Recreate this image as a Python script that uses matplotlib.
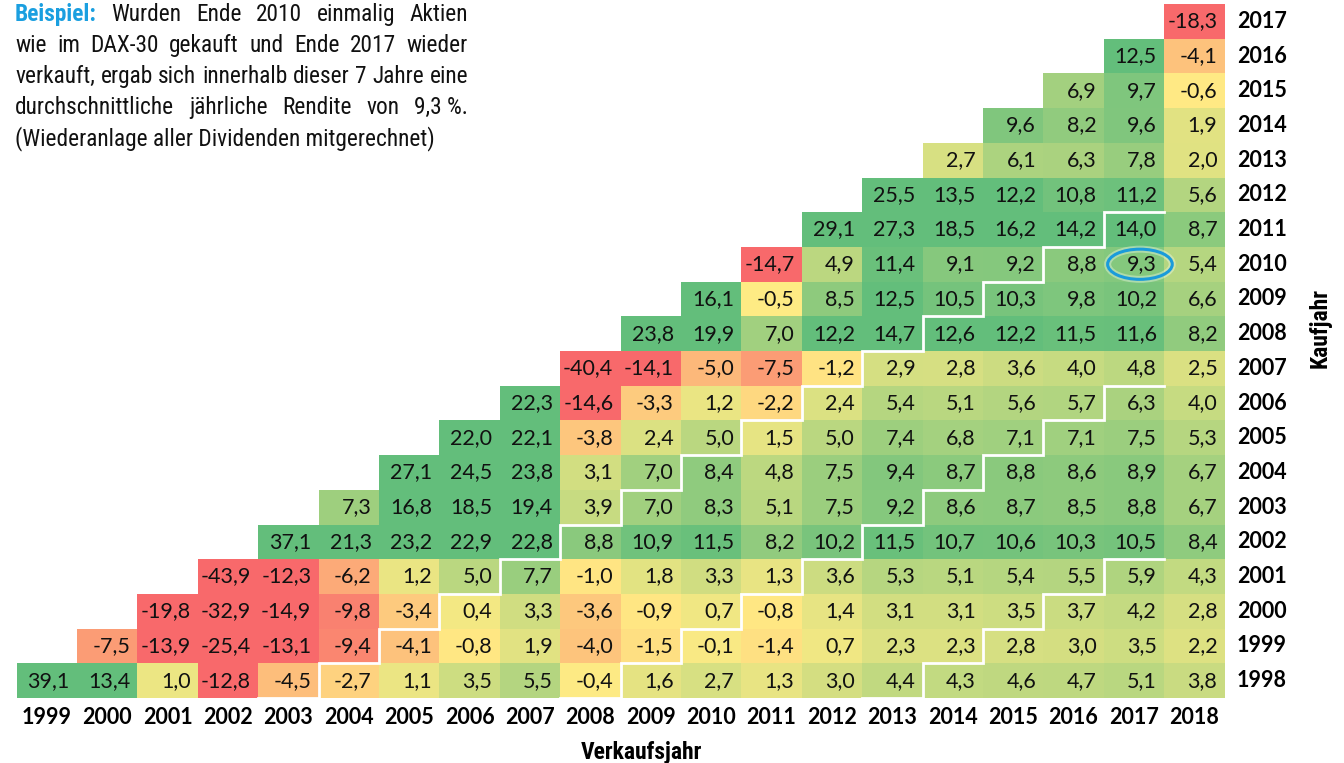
import matplotlib
matplotlib.use("Agg")
import matplotlib.pyplot as plt
import matplotlib.transforms as mtransforms
import numpy as np
from matplotlib import font_manager
from matplotlib.colors import LinearSegmentedColormap, TwoSlopeNorm
from matplotlib.patches import Ellipse

# Kaufjahr (rows) / Verkaufsjahr (columns)
buy_years = list(range(1998, 2018))
sell_years = list(range(1999, 2019))

# average annual return in %, one list per buy year, starting at sell year = buy year + 1
r1998 = [39.1, 13.4, 1.0, -12.8, -4.5, -2.7, 1.1, 3.5, 5.5, -0.4, 1.6, 2.7, 1.3, 3.0, 4.4, 4.3, 4.6, 4.7, 5.1, 3.8]
r1999 = [-7.5, -13.9, -25.4, -13.1, -9.4, -4.1, -0.8, 1.9, -4.0, -1.5, -0.1, -1.4, 0.7, 2.3, 2.3, 2.8, 3.0, 3.5, 2.2]
r2000 = [-19.8, -32.9, -14.9, -9.8, -3.4, 0.4, 3.3, -3.6, -0.9, 0.7, -0.8, 1.4, 3.1, 3.1, 3.5, 3.7, 4.2, 2.8]
r2001 = [-43.9, -12.3, -6.2, 1.2, 5.0, 7.7, -1.0, 1.8, 3.3, 1.3, 3.6, 5.3, 5.1, 5.4, 5.5, 5.9, 4.3]
r2002 = [37.1, 21.3, 23.2, 22.9, 22.8, 8.8, 10.9, 11.5, 8.2, 10.2, 11.5, 10.7, 10.6, 10.3, 10.5, 8.4]
r2003 = [7.3, 16.8, 18.5, 19.4, 3.9, 7.0, 8.3, 5.1, 7.5, 9.2, 8.6, 8.7, 8.5, 8.8, 6.7]
r2004 = [27.1, 24.5, 23.8, 3.1, 7.0, 8.4, 4.8, 7.5, 9.4, 8.7, 8.8, 8.6, 8.9, 6.7]
r2005 = [22.0, 22.1, -3.8, 2.4, 5.0, 1.5, 5.0, 7.4, 6.8, 7.1, 7.1, 7.5, 5.3]
r2006 = [22.3, -14.6, -3.3, 1.2, -2.2, 2.4, 5.4, 5.1, 5.6, 5.7, 6.3, 4.0]
r2007 = [-40.4, -14.1, -5.0, -7.5, -1.2, 2.9, 2.8, 3.6, 4.0, 4.8, 2.5]
r2008 = [23.8, 19.9, 7.0, 12.2, 14.7, 12.6, 12.2, 11.5, 11.6, 8.2]
r2009 = [16.1, -0.5, 8.5, 12.5, 10.5, 10.3, 9.8, 10.2, 6.6]
r2010 = [-14.7, 4.9, 11.4, 9.1, 9.2, 8.8, 9.3, 5.4]
r2011 = [29.1, 27.3, 18.5, 16.2, 14.2, 14.0, 8.7]
r2012 = [25.5, 13.5, 12.2, 10.8, 11.2, 5.6]
r2013 = [2.7, 6.1, 6.3, 7.8, 2.0]
r2014 = [9.6, 8.2, 9.6, 1.9]
r2015 = [6.9, 9.7, -0.6]
r2016 = [12.5, -4.1]
r2017 = [-18.3]

rows = [r1998, r1999, r2000, r2001, r2002, r2003, r2004, r2005, r2006, r2007,
        r2008, r2009, r2010, r2011, r2012, r2013, r2014, r2015, r2016, r2017]

# holding periods where the white staircase lines start (6, 11, 16 years)
hold_marks = [6, 11, 16]
example_buy, example_sell = 2010, 2017

W, H = 1344, 763
fig = plt.figure(figsize=(W / 100, H / 100), dpi=100)


def fx(x):
    return x / W


def fy(y):
    return 1 - y / H


installed = {f.name for f in font_manager.fontManager.ttflist}
narrow = next((f for f in ['Roboto Condensed', 'Liberation Sans Narrow', 'DejaVu Sans Condensed',
                           'Open Sans Condensed', 'Lato'] if f in installed), 'DejaVu Sans')
num_font = 'Lato' if 'Lato' in installed else 'DejaVu Sans'

grid_l, grid_r, grid_t, grid_b = 16.5, 1224.5, 4, 698
ax = fig.add_axes([fx(grid_l), fy(grid_b), (grid_r - grid_l) / W, (grid_b - grid_t) / H])
ax.set_axis_off()

M = np.full((len(buy_years), len(sell_years)), np.nan)
for i, (by, vals) in enumerate(zip(buy_years, rows)):
    start = sell_years.index(by + 1)
    M[i, start:start + len(vals)] = vals

cmap = LinearSegmentedColormap.from_list('xl_scale', ['#F8696B', '#FFEB84', '#63BE7B'])
norm = TwoSlopeNorm(vmin=-12, vcenter=-0.5, vmax=12)
xe = np.arange(sell_years[0] - 0.5, sell_years[-1] + 1)
ye = np.arange(buy_years[0] - 0.5, buy_years[-1] + 1)
ax.pcolormesh(xe, ye, np.ma.masked_invalid(M), cmap=cmap, norm=norm, shading='flat')
ax.set_xlim(xe[0], xe[-1])
ax.set_ylim(ye[0], ye[-1])

# cell values
for i, by in enumerate(buy_years):
    for j, sy in enumerate(sell_years):
        v = M[i, j]
        if np.isnan(v):
            continue
        ax.text(sy + 0.5 - 0.12, by, f"{v:.1f}".replace('.', ','), ha='right', va='center',
                fontsize=15.5, family=num_font, color='#111111')

# white staircase lines
for k in hold_marks:
    xs = [buy_years[0] + k - 1.5, buy_years[0] + k - 0.5]
    ys = [buy_years[0] - 0.5] * 2
    for by in buy_years:
        if by + k > sell_years[-1] - 1:
            break
        xs += [by + k - 0.5, by + k + 0.5]
        ys += [by + 0.5, by + 0.5]
    ax.plot(xs, ys, color='white', lw=2, solid_joinstyle='miter', zorder=3)

# highlight of the example
ax.add_patch(Ellipse((example_sell + 0.1, example_buy), 1.07, 0.87, fill=False,
                     edgecolor='white', lw=5, alpha=0.35, zorder=4))
ax.add_patch(Ellipse((example_sell + 0.1, example_buy), 1.07, 0.87, fill=False,
                     edgecolor='#1A9BDB', lw=2.2, zorder=5))

# year labels
bt = mtransforms.blended_transform_factory(ax.transData, fig.transFigure)
for sy in sell_years:
    ax.text(sy, fy(717), str(sy), transform=bt, ha='center', va='center',
            fontsize=15.5, fontweight='bold', family=num_font)
rt = mtransforms.blended_transform_factory(fig.transFigure, ax.transData)
for by in buy_years:
    ax.text(fx(1237), by, str(by), transform=rt, ha='left', va='center',
            fontsize=15.5, fontweight='bold', family=num_font)

fig.text(fx(641), fy(752), 'Verkaufsjahr', ha='center', va='center', fontsize=17,
         fontweight='bold', family=narrow)
fig.text(fx(1320), fy(328), 'Kaufjahr', ha='center', va='center', fontsize=17,
         fontweight='bold', family=narrow, rotation=90)

# example text, justified between x=15 and x=468
renderer = fig.canvas.get_renderer()
para = [
    'Wurden Ende 2010 einmalig Aktien',
    'wie im DAX-30 gekauft und Ende 2017 wieder',
    'verkauft, ergab sich innerhalb dieser 7 Jahre eine',
    'durchschnittliche jährliche Rendite von 9,3\u00a0%.',
]
last_line = '(Wiederanlage aller Dividenden mitgerechnet)'
baselines = [21, 52, 83, 114, 145]
x_left, x_right = 15, 468
min_gap = 4


def word_texts(n, line, size):
    texts = []
    if n == 0:
        texts.append(fig.text(0, fy(baselines[n]), 'Beispiel:', fontsize=size, fontweight='bold',
                              color='#1A9FE0', family=narrow, va='baseline'))
    for w in line.split(' '):
        texts.append(fig.text(0, fy(baselines[n]), w, fontsize=size, family=narrow,
                              color='#111111', va='baseline'))
    return texts


# fit the font so that the tightest justified line just fills the width
size = 15
scale = 10.0
for n, line in enumerate(para):
    probe = word_texts(n, line, size)
    need = sum(t.get_window_extent(renderer).width for t in probe) + min_gap * (len(probe) - 1)
    scale = min(scale, (x_right - x_left) / need)
    for t in probe:
        t.remove()
size = size * min(scale, 1.12)

for n, line in enumerate(para):
    texts = word_texts(n, line, size)
    widths = [t.get_window_extent(renderer).width for t in texts]
    gap = (x_right - x_left - sum(widths)) / (len(texts) - 1)
    x = x_left
    for t, wd in zip(texts, widths):
        t.set_x(fx(x))
        x += wd + gap
fig.text(fx(x_left), fy(baselines[4]), last_line, fontsize=size, family=narrow,
         color='#111111', va='baseline')

fig.savefig('out.png', dpi=100)
